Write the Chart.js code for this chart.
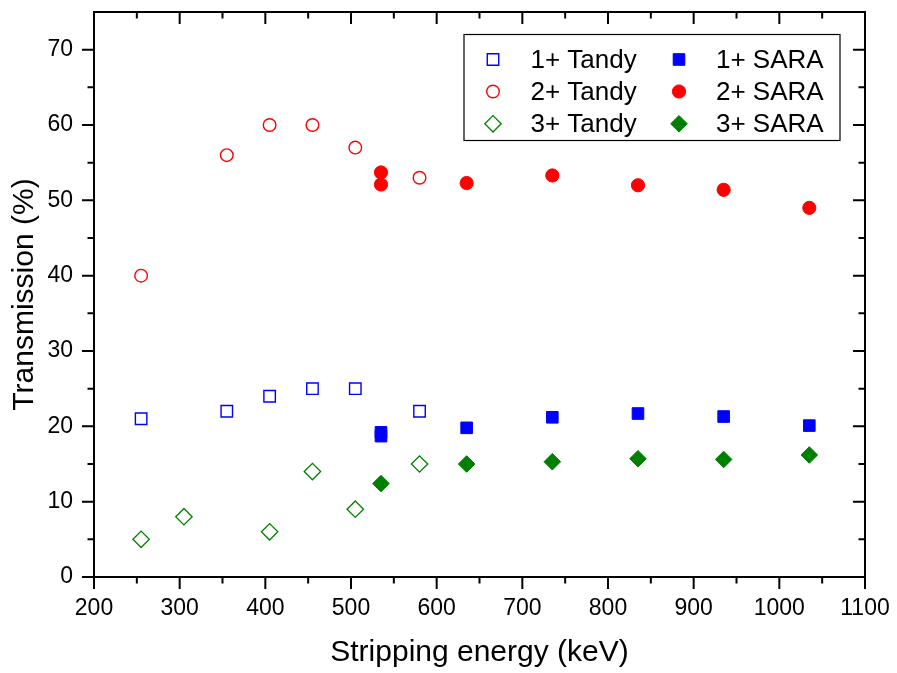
<!DOCTYPE html>
<html>
<head>
<meta charset="utf-8">
<script src="https://cdn.jsdelivr.net/npm/chart.js@4/dist/chart.umd.min.js"></script>
<style>
  html, body { margin: 0; padding: 0; background: #fff; }
  canvas { display: block; }
</style>
</head>
<body>
<canvas id="chart" width="897" height="673"></canvas>
<script>
// Transmission measured on the Tandy accelerator, per charge state
const tandyEnergy1 = [255, 355, 405, 455, 505, 580];
const tandy1 = [21, 22, 24, 25, 25, 22];
const tandyEnergy2 = [255, 355, 405, 455, 505, 580];
const tandy2 = [40, 56, 60, 60, 57, 53];
const tandyEnergy3 = [255, 305, 405, 455, 505, 580];
const tandy3 = [5, 8, 6, 14, 9, 15];

// Transmission measured on SARA, per charge state
const saraEnergy1 = [535, 535, 635, 735, 835, 935, 1035];
const sara1 = [19.2, 18.7, 19.8, 21.2, 21.7, 21.3, 20.1];
const saraEnergy2 = [535, 535, 635, 735, 835, 935, 1035];
const sara2 = [53.7, 52.1, 52.3, 53.3, 52.0, 51.4, 49.0];
const saraEnergy3 = [535, 635, 735, 835, 935, 1035];
const sara3 = [12.4, 15.0, 15.3, 15.7, 15.6, 16.2];

// Axis ticks
const xTicks = [200, 300, 400, 500, 600, 700, 800, 900, 1000, 1100];
const xMinorTicks = [250, 350, 450, 550, 650, 750, 850, 950, 1050];
const yTicks = [0, 10, 20, 30, 40, 50, 60, 70];
const yMinorTicks = [5, 15, 25, 35, 45, 55, 65];

const seriesLabels = ['1+ Tandy', '2+ Tandy', '3+ Tandy', '1+ SARA', '2+ SARA', '3+ SARA'];

const BLUE = '#0000ff';
const RED = '#ff0000';
const GREEN = '#008000';

function pts(xs, ys) {
  return xs.map((x, i) => ({ x: x, y: ys[i] }));
}

const FONT = '"Liberation Sans", Arial, sans-serif';

// Open markers for Tandy, filled markers for SARA
const datasets = [
  { label: seriesLabels[0], data: pts(tandyEnergy1, tandy1), pointStyle: 'rect',
    pointRadius: 8.1, borderColor: BLUE, backgroundColor: 'rgba(0,0,0,0)', pointBorderWidth: 1.4 },
  { label: seriesLabels[1], data: pts(tandyEnergy2, tandy2), pointStyle: 'circle',
    pointRadius: 6.3, borderColor: RED, backgroundColor: 'rgba(0,0,0,0)', pointBorderWidth: 1.4 },
  { label: seriesLabels[2], data: pts(tandyEnergy3, tandy3), pointStyle: 'rectRot',
    pointRadius: 8.2, borderColor: GREEN, backgroundColor: 'rgba(0,0,0,0)', pointBorderWidth: 1.3 },
  { label: seriesLabels[3], data: pts(saraEnergy1, sara1), pointStyle: 'rect',
    pointRadius: 8.2, borderColor: BLUE, backgroundColor: BLUE, pointBorderWidth: 1 },
  { label: seriesLabels[4], data: pts(saraEnergy2, sara2), pointStyle: 'circle',
    pointRadius: 6.6, borderColor: RED, backgroundColor: RED, pointBorderWidth: 1 },
  { label: seriesLabels[5], data: pts(saraEnergy3, sara3), pointStyle: 'rectRot',
    pointRadius: 8.3, borderColor: GREEN, backgroundColor: GREEN, pointBorderWidth: 1 }
];

// Frame plus major/minor tick marks: outward on bottom/left, inward on top/right
const frameTicks = {
  id: 'frameTicks',
  afterDraw(chart) {
    const { ctx, chartArea: a, scales: { x, y } } = chart;
    const MAJ = 12, MIN = 6.5;
    ctx.save();
    ctx.strokeStyle = '#000';
    ctx.lineWidth = 2;
    ctx.lineCap = 'butt';
    ctx.beginPath();
    const xt = (v, len) => {
      const px = x.getPixelForValue(v);
      ctx.moveTo(px, a.bottom); ctx.lineTo(px, a.bottom + len);
      ctx.moveTo(px, a.top); ctx.lineTo(px, a.top + len);
    };
    const yt = (v, len) => {
      const py = y.getPixelForValue(v);
      ctx.moveTo(a.left, py); ctx.lineTo(a.left - len, py);
      ctx.moveTo(a.right, py); ctx.lineTo(a.right - len, py);
    };
    xTicks.forEach(v => xt(v, MAJ));
    xMinorTicks.forEach(v => xt(v, MIN));
    yTicks.forEach(v => yt(v, MAJ));
    yMinorTicks.forEach(v => yt(v, MIN));
    ctx.stroke();
    ctx.strokeRect(a.left, a.top, a.right - a.left, a.bottom - a.top);
    ctx.restore();
  }
};

// Two-column boxed legend inside the plot area
function drawSymbol(ctx, ds, cx, cy) {
  const r = ds.pointRadius;
  ctx.save();
  ctx.lineWidth = ds.pointBorderWidth;
  ctx.strokeStyle = ds.borderColor;
  ctx.fillStyle = ds.backgroundColor;
  ctx.beginPath();
  if (ds.pointStyle === 'rect') {
    const s = Math.SQRT1_2 * r;
    ctx.rect(cx - s, cy - s, 2 * s, 2 * s);
  } else if (ds.pointStyle === 'circle') {
    ctx.arc(cx, cy, r, 0, Math.PI * 2);
  } else {
    ctx.moveTo(cx, cy - r); ctx.lineTo(cx + r, cy);
    ctx.lineTo(cx, cy + r); ctx.lineTo(cx - r, cy);
    ctx.closePath();
  }
  ctx.fill();
  ctx.stroke();
  ctx.restore();
}

const boxLegend = {
  id: 'boxLegend',
  afterDraw(chart) {
    const { ctx, chartArea: a } = chart;
    const left = a.left + 370, top = a.top + 22.5, w = 376, h = 106;
    ctx.save();
    ctx.fillStyle = '#fff';
    ctx.fillRect(left, top, w, h);
    ctx.strokeStyle = '#000';
    ctx.lineWidth = 1.2;
    ctx.strokeRect(left, top, w, h);
    ctx.font = '26px ' + FONT;
    ctx.textAlign = 'left';
    ctx.textBaseline = 'alphabetic';
    const symX = [left + 29, left + 215];
    const txtX = [left + 66.5, left + 252];
    const rowY = [top + 25, top + 57, top + 89.3];
    chart.data.datasets.forEach((ds, i) => {
      const col = Math.floor(i / 3), row = i % 3;
      drawSymbol(ctx, ds, symX[col], rowY[row]);
      ctx.fillStyle = '#000';
      ctx.fillText(ds.label, txtX[col], rowY[row] + 8.6);
    });
    ctx.restore();
  }
};

new Chart(document.getElementById('chart'), {
  type: 'scatter',
  data: { datasets: datasets },
  options: {
    responsive: false,
    animation: false,
    devicePixelRatio: 1,
    layout: { padding: { top: 12, right: 32, left: 0, bottom: 0 } },
    plugins: { legend: { display: false }, tooltip: { enabled: false } },
    scales: {
      x: {
        type: 'linear',
        min: 200, max: 1100,
        afterFit(scale) {
          scale.height = 96;
          scale.paddingLeft = 0;
          scale.paddingRight = 0;
        },
        afterBuildTicks(scale) { scale.ticks = xTicks.map(v => ({ value: v })); },
        grid: { display: true, drawOnChartArea: false, drawTicks: true, tickLength: 12, color: 'rgba(0,0,0,0)' },
        border: { display: false },
        ticks: { color: '#000', padding: 6, maxRotation: 0, autoSkip: false,
                 callback: v => String(v),
                 font: { family: FONT, size: 23 } },
        title: { display: true, text: 'Stripping energy (keV)', color: '#000',
                 font: { family: FONT, size: 30 }, padding: { top: 0, bottom: 2 } }
      },
      y: {
        type: 'linear',
        min: 0, max: 75,
        afterFit(scale) {
          scale.width = 94;
          scale.paddingTop = 0;
          scale.paddingBottom = 0;
        },
        afterBuildTicks(scale) { scale.ticks = yTicks.map(v => ({ value: v })); },
        grid: { display: true, drawOnChartArea: false, drawTicks: true, tickLength: 12, color: 'rgba(0,0,0,0)' },
        border: { display: false },
        ticks: { color: '#000', padding: 9, autoSkip: false,
                 callback: v => String(v),
                 font: { family: FONT, size: 23 } },
        title: { display: true, text: 'Transmission (%)', color: '#000',
                 font: { family: FONT, size: 30 }, padding: { top: 7, bottom: 0 } }
      }
    }
  },
  plugins: [frameTicks, boxLegend]
});
</script>
</body>
</html>
